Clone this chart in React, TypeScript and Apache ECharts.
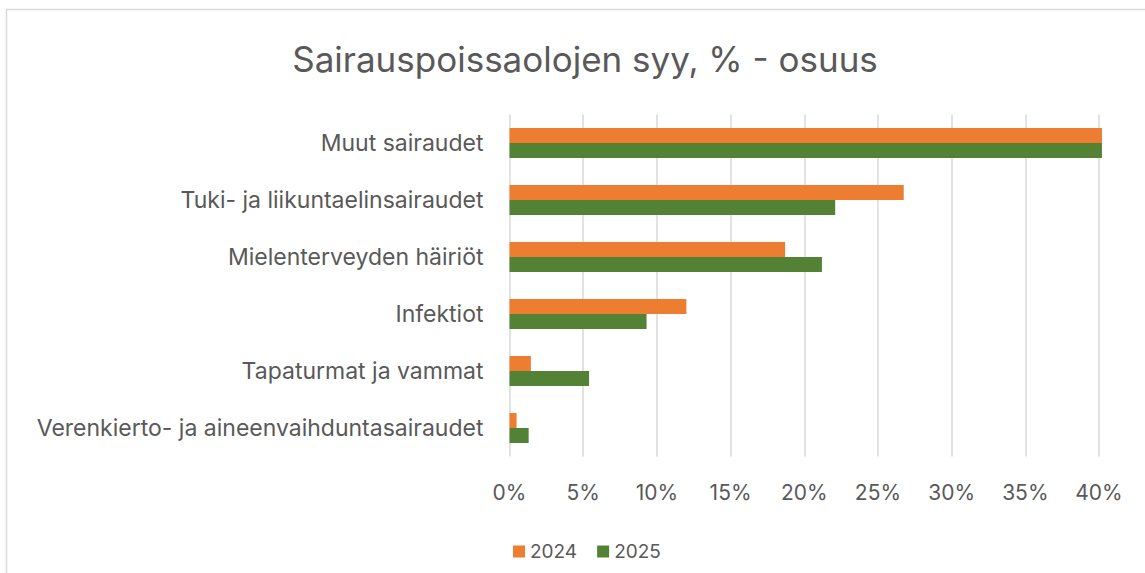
import React, { useEffect, useRef } from "react";
import * as echarts from "echarts";

const categories = [
  "Muut sairaudet",
  "Tuki- ja liikuntaelinsairaudet",
  "Mielenterveyden häiriöt",
  "Infektiot",
  "Tapaturmat ja vammat",
  "Verenkierto- ja aineenvaihduntasairaudet",
];
const values2024 = [40.2, 26.75, 18.7, 12.0, 1.45, 0.48];
const values2025 = [40.2, 22.1, 21.2, 9.3, 5.4, 1.3];
const seriesNames = ["2024", "2025"];

const FONT = "Inter";
const TEXT = "#595959";

export default function App() {
  const ref = useRef<HTMLDivElement>(null);
  useEffect(() => {
    if (!ref.current) return;
    const chart = echarts.init(ref.current, undefined, { renderer: "svg" });
    chart.setOption({
      animation: false,
      backgroundColor: "#ffffff",
      title: {
        text: "Sairauspoissaolojen syy, % - osuus",
        left: 580,
        top: 36,
        textAlign: "center",
        textStyle: { fontFamily: FONT, fontSize: 35, fontWeight: "normal", color: TEXT },
      },
      graphic: [
        {
          type: "rect",
          shape: { x: 6.5, y: 9.5, width: 1200, height: 700 },
          style: { fill: "none", stroke: "#d9d9d9", lineWidth: 1.5 },
          silent: true,
        },
      ],
      legend: {
        data: seriesNames,
        left: 508,
        top: 537,
        itemWidth: 12,
        itemHeight: 12,
        itemGap: 20,
        icon: "rect",
        textStyle: { fontFamily: FONT, fontSize: 19, color: TEXT },
      },
      grid: { left: 509.5, right: 1145 - 1099, top: 114.5, height: 342, containLabel: false },
      xAxis: {
        type: "value",
        min: 0,
        max: 40,
        interval: 5,
        axisLabel: {
          formatter: "{value}%",
          fontFamily: FONT,
          fontSize: 21,
          color: TEXT,
          margin: 25,
        },
        axisLine: { show: false },
        axisTick: { show: false },
        splitLine: { show: true, lineStyle: { color: "#d9d9d9", width: 1.5 } },
      },
      yAxis: {
        type: "category",
        inverse: true,
        data: categories,
        axisLabel: { fontFamily: FONT, fontSize: 23, color: TEXT, margin: 26 },
        axisLine: { show: false },
        axisTick: { show: false },
      },
      series: [
        {
          name: seriesNames[0],
          type: "bar",
          data: values2024,
          barWidth: 15,
          barGap: "0%",
          clip: false,
          itemStyle: { color: "#ed7d31" },
        },
        {
          name: seriesNames[1],
          type: "bar",
          data: values2025,
          barWidth: 15,
          barGap: "0%",
          clip: false,
          itemStyle: { color: "#548235" },
        },
      ],
    });
    return () => chart.dispose();
  }, []);
  return (
    <div
      ref={ref}
      style={{ position: "fixed", left: 0, top: 0, width: 1145, height: 573 }}
    />
  );
}
